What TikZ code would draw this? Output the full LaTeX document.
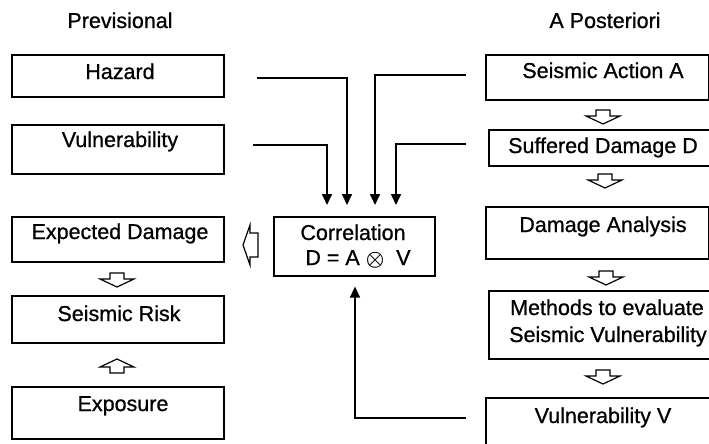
\documentclass[tikz,border=0pt]{standalone}
\usepackage{fontspec}
\setmainfont[FakeBold=0.8]{Liberation Sans}
\usetikzlibrary{arrows.meta,calc}
\tikzset{
  box/.style={draw, line width=1.6pt, inner sep=0pt, anchor=north west},
  txt/.style={anchor=base, inner sep=0pt, font=\fontsize{21.5}{24}\selectfont},
  conn/.style={line width=1.6pt, -{Triangle[length=11pt,width=10pt]}},
  hdown/.pic={\draw[line width=1.2pt, fill=white] (-7,-7)--(7,-7)--(7,-1)--(17,-1)--(0,7)--(-17,-1)--(-7,-1)--cycle;},
  hleft/.pic={\draw[line width=1.2pt, fill=white] (8,-12)--(0,-12)--(0,-20)--(-7,0)--(0,20)--(0,12)--(8,12)--cycle;}
}
\begin{document}
\begin{tikzpicture}[x=1pt,y=-1pt]
\useasboundingbox (0,0) rectangle (709,444);
\clip (0,0) rectangle (709,444);
% headings
\node[txt] (hl) at (120,28) {Previsional};
\node[txt] (hr) at (605,28) {A Posteriori};
% left column
\node[box, minimum width=212pt, minimum height=42pt] (hz) at (11,54) {};
\node[box, minimum width=212pt, minimum height=49pt] (vu) at (11,124) {};
\node[box, minimum width=212pt, minimum height=45pt] (ed) at (11,216) {};
\node[box, minimum width=212pt, minimum height=47pt] (sr) at (11,295) {};
\node[box, minimum width=212pt, minimum height=52pt] (ex) at (11,386) {};
\node[txt] (thz) at (120,79) {Hazard};
\node[txt] (tvu) at (120,147) {Vulnerability};
\node[txt] (ted) at (120,239) {Expected Damage};
\node[txt] (tsr) at (119,321) {Seismic Risk};
\node[txt] (tex) at (123,411) {Exposure};
% right column
\node[box, minimum width=223pt, minimum height=45pt] (sa) at (485,54) {};
\node[box, minimum width=225pt, minimum height=36pt] (sd) at (488,129) {};
\node[box, minimum width=223pt, minimum height=52pt] (da) at (485,206) {};
\node[box, minimum width=230pt, minimum height=68pt] (me) at (488,290) {};
\node[box, minimum width=230pt, minimum height=60pt] (vv) at (485,397) {};
\node[txt] (tsa) at (603,78) {Seismic Action A};
\node[txt] (tsd) at (603,153) {Suffered Damage D};
\node[txt] (tda) at (603,232) {Damage Analysis};
\node[txt] (tme1) at (607,315) {Methods to evaluate};
\node[txt] (tme2) at (608,342) {Seismic Vulnerability};
\node[txt] (tvv) at (603,423) {Vulnerability V};
% correlation
\node[box, minimum width=161pt, minimum height=59pt] (co) at (273,216) {};
\node[txt] (tco1) at (353,240) {Correlation};
\node[txt] (tco2) at (358,265) {D = A {\boldmath$\otimes$}\ \ V};
% connectors
\coordinate (hzo) at (257,78);
\coordinate (vuo) at (253,145);
\coordinate (sao) at (466,75);
\coordinate (sdo) at (466,144);
\coordinate (vvo) at (466,418);
\draw[conn, shorten >=11pt] (hzo) -| ($(co.north west)+(74,0)$);
\draw[conn, shorten >=11pt] (vuo) -| ($(co.north west)+(54,0)$);
\draw[conn, shorten >=11pt] (sao) -| ($(co.north west)+(102,0)$);
\draw[conn, shorten >=11pt] (sdo) -| ($(co.north west)+(123,0)$);
\draw[conn, line width=1.3pt, shorten >=10pt] (vvo) -| ($(co.south west)+(82,0)$);
% hollow arrows
\pic at (117,280) {hdown};
\pic[rotate=180] at (117,366) {hdown};
\pic at (603,117) {hdown};
\pic at (605,181) {hdown};
\pic at (606,278) {hdown};
\pic at (603,377) {hdown};
\pic at (250,245) {hleft};
\end{tikzpicture}
\end{document}
